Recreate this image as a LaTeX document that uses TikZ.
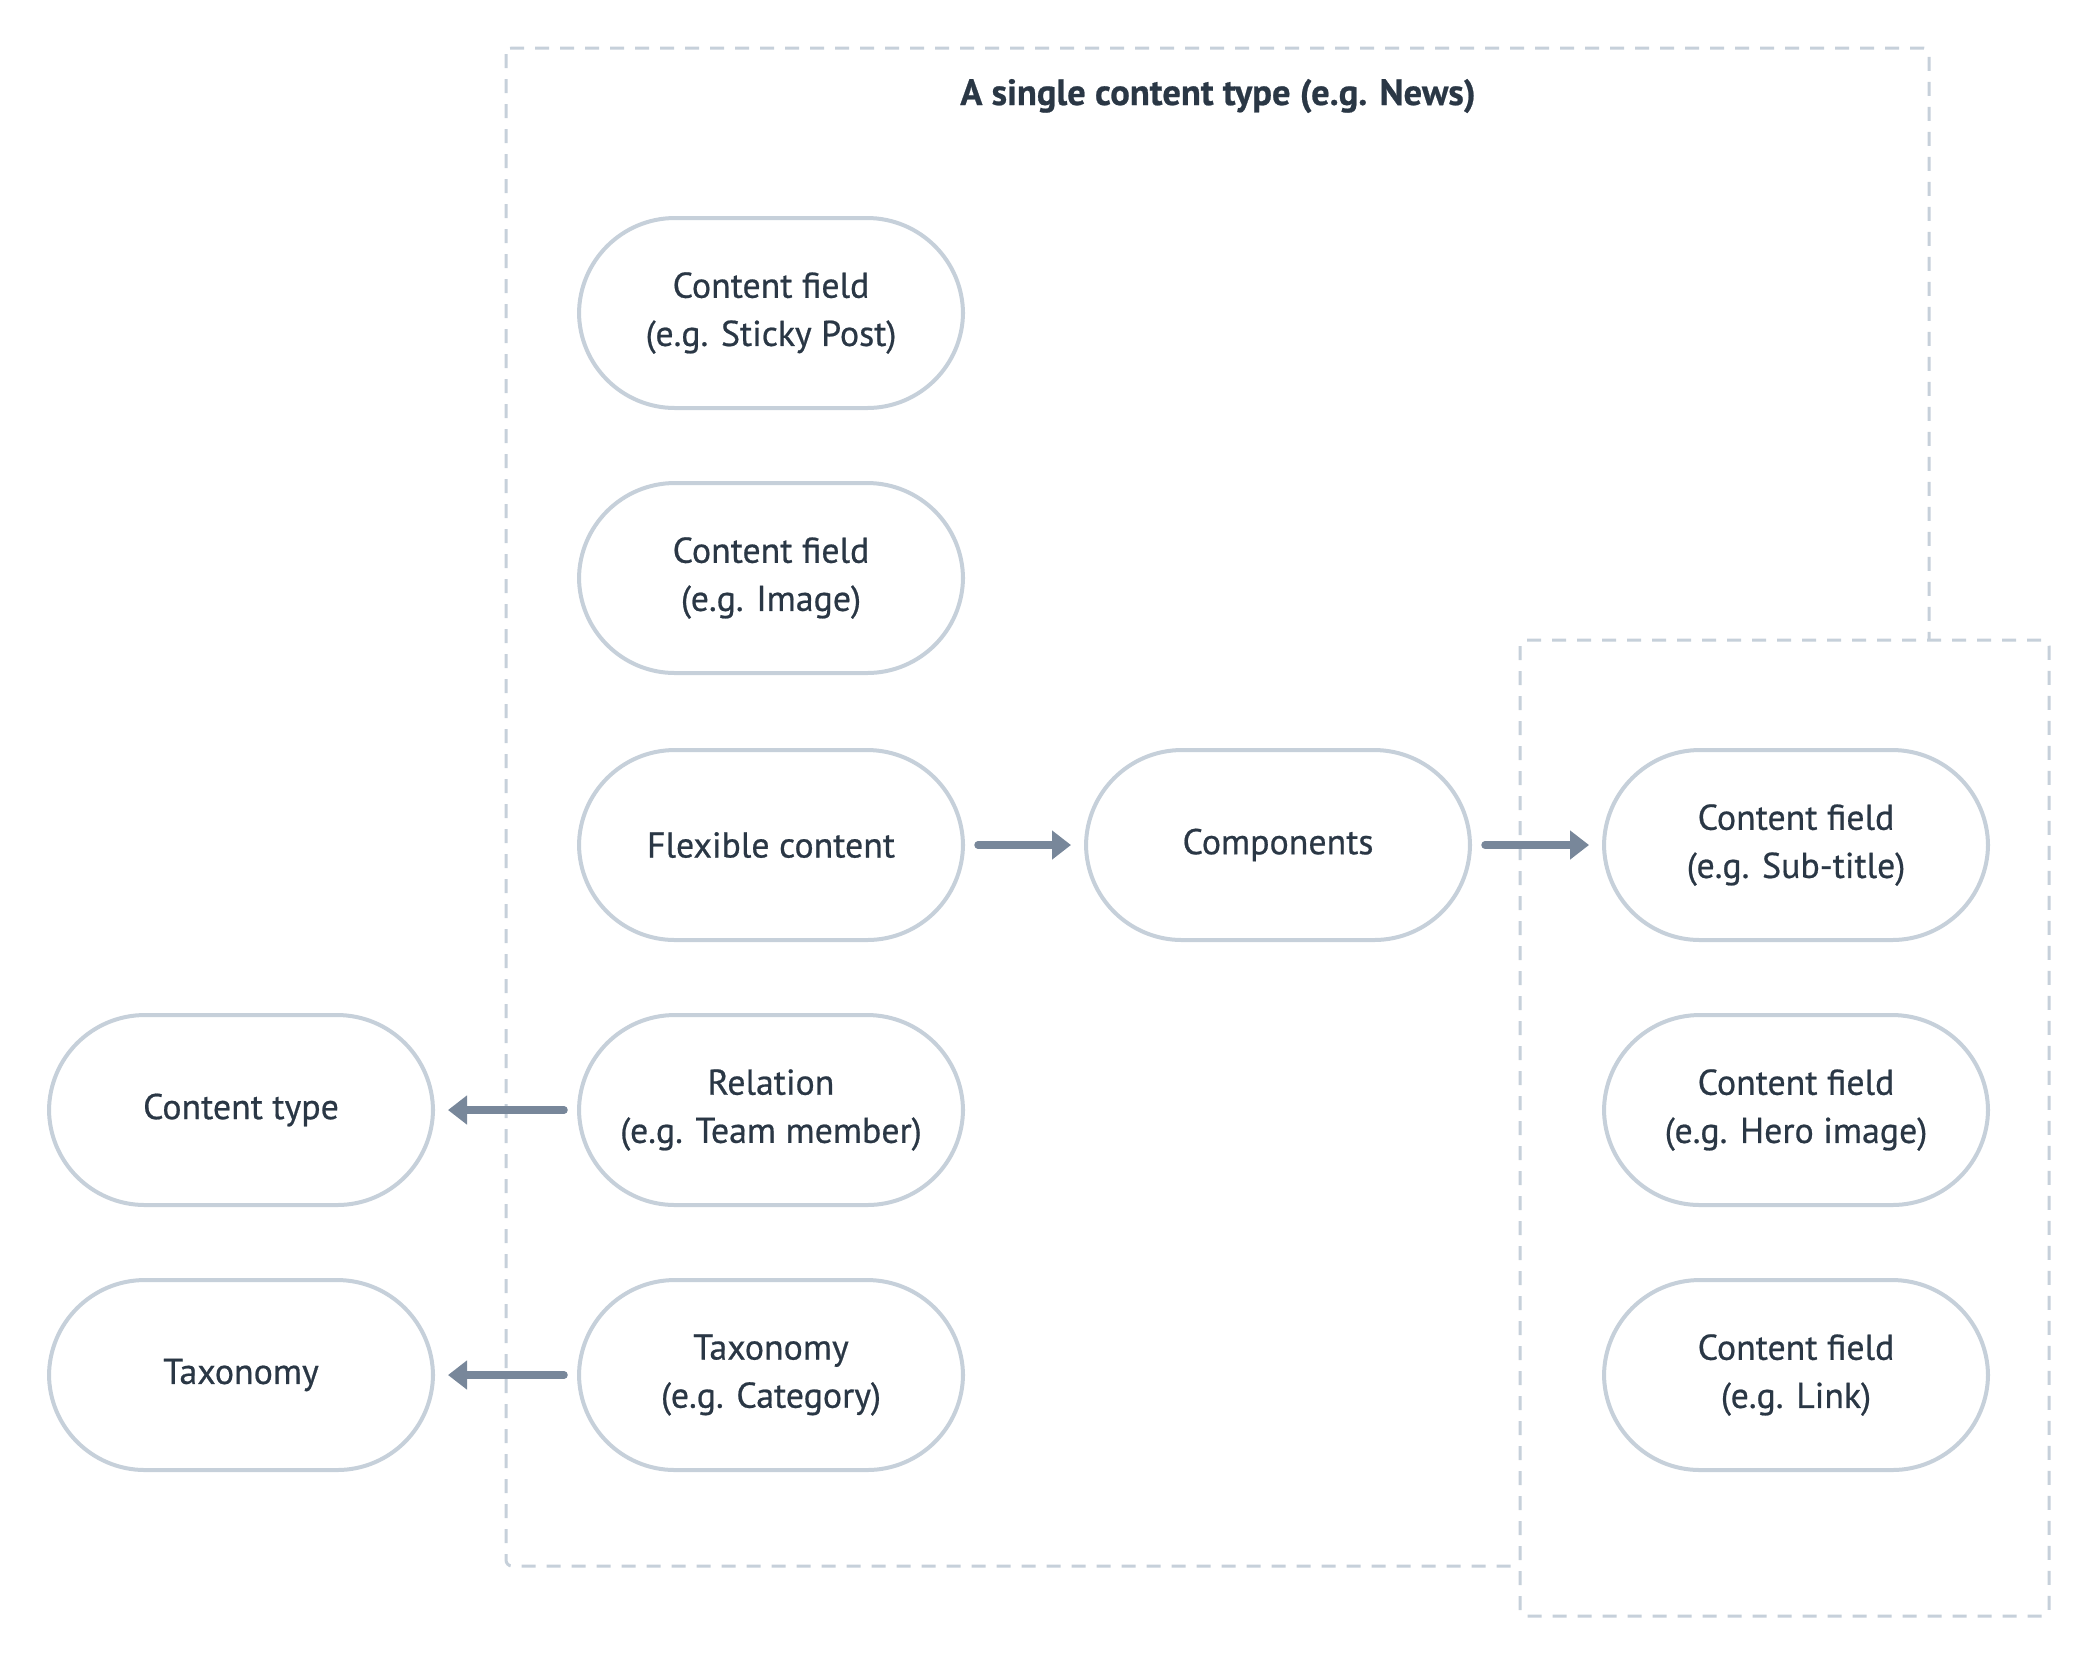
\documentclass[tikz,border=0pt]{standalone}
\usepackage{fontspec}
\setmainfont{PT Sans}[FakeBold=0.6]
\newfontfamily\medium{PT Sans}[FakeBold=0.6,AutoFakeBold=0.6]
\usetikzlibrary{arrows.meta}
\definecolor{ink}{HTML}{2A3745}
\definecolor{rim}{HTML}{C6D0DA}
\definecolor{pointer}{HTML}{78879A}
\begin{document}
\begin{tikzpicture}[font=\medium\fontsize{10.2}{13.7}\selectfont, text=ink]
		\tikzstyle{field}=[draw=rim,line width=0.04cm,rounded corners=0.96cm,minimum width=3.84cm,minimum height=1.9cm,align=center,fill=white]
		\tikzstyle{group}=[draw=rim,line width=0.03cm,dash pattern=on 0.14cm off 0.11cm,rounded corners=0.06cm]
		\tikzstyle{link}=[draw=pointer,line width=0.075cm,line cap=round,-{Triangle[length=0.19cm,width=0.28cm]},shorten >=0.13cm,shorten <=0.13cm]
		\useasboundingbox (0,0) rectangle (20.88,-16.56);
 
		% the two dashed frames
		\draw[group] (5.06,-0.48) rectangle (19.29,-15.66);
		\draw[group,fill=white] (15.20,-6.40) rectangle (20.49,-16.16);
		\node[font=\fontsize{10.4}{13.7}\selectfont\bfseries](title) at (12.18,-0.96){A single content type (e.g. News)};
 
		\node[field](sticky) at (7.71,-3.13){Content field\\(e.g. Sticky Post)};
		\node[field](image) at (7.71,-5.78){Content field\\(e.g. Image)};
		\node[field](flex) at (7.71,-8.45){Flexible content};
		\node[field](rel) at (7.71,-11.10){Relation\\(e.g. Team member)};
		\node[field](tax) at (7.71,-13.75){Taxonomy\\(e.g. Category)};
 
		\node[field](comp) at (12.78,-8.45){Components};
 
		\node[field](sub) at (17.96,-8.45){Content field\\(e.g. Sub-title)};
		\node[field](hero) at (17.96,-11.10){Content field\\(e.g. Hero image)};
		\node[field](lnk) at (17.96,-13.75){Content field\\(e.g. Link)};
 
		\node[field](ctype) at (2.41,-11.10){Content type};
		\node[field](taxo) at (2.41,-13.75){Taxonomy};
 
		\draw[link] (flex) -- (comp);
		\draw[link] (comp) -- (sub);
		\draw[link] (rel) -- (ctype);
		\draw[link] (tax) -- (taxo);
	\end{tikzpicture}
\end{document}
